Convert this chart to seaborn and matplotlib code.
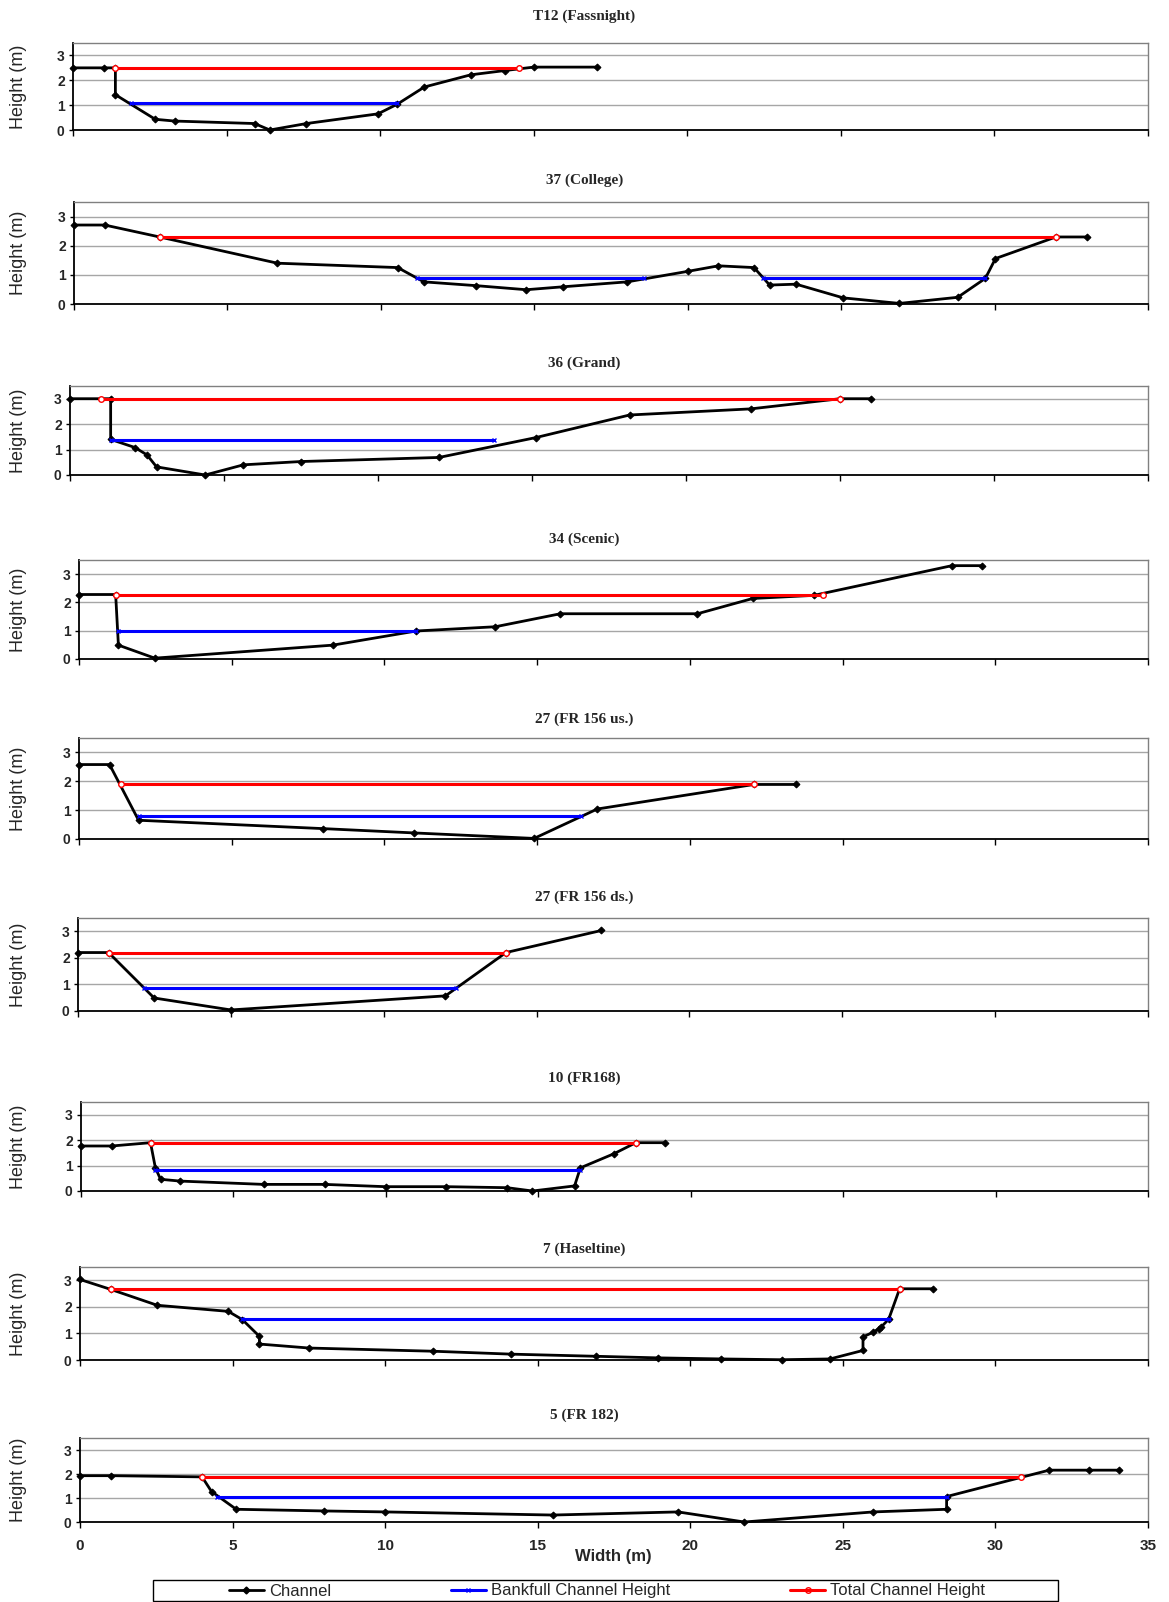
import matplotlib
matplotlib.use("Agg")
import pandas as pd
import seaborn as sns
import matplotlib.pyplot as plt
from matplotlib.lines import Line2D

# === DATA ===
titles = ["T12 (Fassnight)", "37 (College)", "36 (Grand)", "34 (Scenic)",
          "27 (FR 156 us.)", "27 (FR 156 ds.)", "10 (FR168)", "7 (Haseltine)",
          "5 (FR 182)"]

t12_x = [0, 1.0, 1.38, 1.38, 2.68, 3.31, 5.91, 6.41, 7.60, 9.93, 10.56, 11.44, 12.95, 14.05, 15.0, 17.07]
t12_y = [2.5, 2.5, 2.5, 1.42, 0.43, 0.36, 0.26, 0.0, 0.26, 0.65, 1.04, 1.73, 2.22, 2.39, 2.53, 2.53]
t12_bank = [[1.89, 10.56]]
t12_bank_h = 1.08
t12_total = [1.38, 14.53]
t12_total_h = 2.5

s37_x = [0, 1.0, 2.79, 6.63, 10.55, 11.4, 13.1, 14.74, 15.93, 18.03, 20.0, 21.0, 22.16, 22.67,
         23.53, 25.07, 26.9, 28.8, 29.7, 30.03, 32.0, 33.0]
s37_y = [2.71, 2.71, 2.3, 1.40, 1.25, 0.76, 0.63, 0.49, 0.59, 0.76, 1.12, 1.31, 1.25, 0.65,
         0.68, 0.21, 0.02, 0.23, 0.88, 1.56, 2.3, 2.3]
s37_bank = [[11.18, 18.56], [22.46, 29.7]]
s37_bank_h = 0.88
s37_total = [2.79, 32.0]
s37_total_h = 2.3

s36_x = [0, 1.32, 1.32, 2.11, 2.5, 2.81, 4.39, 5.63, 7.5, 11.98, 15.12, 18.17, 22.1, 25.0, 26.0]
s36_y = [3.0, 3.0, 1.4, 1.08, 0.79, 0.32, 0.0, 0.40, 0.53, 0.69, 1.47, 2.36, 2.6, 3.0, 3.0]
s36_bank = [[1.32, 13.78]]
s36_bank_h = 1.36
s36_total = [1.0, 25.0]
s36_total_h = 3.0

s34_x = [0, 1.2, 1.29, 2.48, 8.31, 11.04, 13.63, 15.76, 20.25, 22.06, 24.06, 28.58, 29.58]
s34_y = [2.28, 2.28, 0.49, 0.03, 0.49, 0.99, 1.14, 1.6, 1.6, 2.14, 2.25, 3.3, 3.3]
s34_bank = [[1.29, 11.04]]
s34_bank_h = 1.0
s34_total = [1.2, 24.36]
s34_total_h = 2.28

s27u_x = [0, 1.0, 1.95, 7.99, 10.98, 14.9, 16.97, 22.1, 23.46]
s27u_y = [2.58, 2.58, 0.65, 0.36, 0.21, 0.02, 1.04, 1.89, 1.89]
s27u_bank = [[1.95, 16.44]]
s27u_bank_h = 0.78
s27u_total = [1.36, 22.1]
s27u_total_h = 1.89

s27d_x = [0, 1.0, 2.49, 5.0, 12.02, 14.0, 17.12]
s27d_y = [2.2, 2.2, 0.49, 0.04, 0.57, 2.2, 3.03]
s27d_bank = [[2.17, 12.35]]
s27d_bank_h = 0.87
s27d_total = [1.0, 14.0]
s27d_total_h = 2.2

s10_x = [0, 1.01, 2.28, 2.44, 2.61, 3.25, 5.99, 7.99, 9.99, 11.98, 13.98, 14.81, 16.19, 16.38,
         17.49, 18.2, 19.16]
s10_y = [1.77, 1.77, 1.9, 0.91, 0.46, 0.39, 0.26, 0.26, 0.17, 0.17, 0.13, 0.0, 0.2, 0.91,
         1.47, 1.9, 1.9]
s10_bank = [[2.44, 16.38]]
s10_bank_h = 0.82
s10_total = [2.28, 18.2]
s10_total_h = 1.9

s7_x = [0, 1.0, 2.53, 4.86, 5.32, 5.88, 5.88, 7.51, 11.58, 14.14, 16.9, 18.94, 21.02, 23.0,
        24.58, 25.66, 25.66, 26.0, 26.17, 26.26, 26.5, 26.86, 27.96]
s7_y = [3.03, 2.66, 2.06, 1.83, 1.52, 0.89, 0.6, 0.45, 0.33, 0.22, 0.14, 0.08, 0.04, 0.01,
        0.04, 0.36, 0.87, 1.05, 1.17, 1.25, 1.53, 2.68, 2.68]
s7_bank = [[5.32, 26.5]]
s7_bank_h = 1.53
s7_total = [1.0, 26.86]
s7_total_h = 2.68

s5_x = [0, 1.03, 4.0, 4.31, 5.12, 8.01, 10.0, 15.5, 19.6, 21.77, 26.0, 28.4, 28.4, 31.76, 33.06, 34.05]
s5_y = [1.93, 1.93, 1.88, 1.27, 0.53, 0.46, 0.42, 0.29, 0.42, 0.0, 0.42, 0.53, 1.06, 2.16, 2.16, 2.16]
s5_bank = [[4.5, 28.4]]
s5_bank_h = 1.06
s5_total = [4.0, 30.83]
s5_total_h = 1.88

x_ticks = [0, 5, 10, 15, 20, 25, 30, 35]
y_ticks = [0, 1, 2, 3]

panels = [
    (t12_x, t12_y, t12_bank, t12_bank_h, t12_total, t12_total_h),
    (s37_x, s37_y, s37_bank, s37_bank_h, s37_total, s37_total_h),
    (s36_x, s36_y, s36_bank, s36_bank_h, s36_total, s36_total_h),
    (s34_x, s34_y, s34_bank, s34_bank_h, s34_total, s34_total_h),
    (s27u_x, s27u_y, s27u_bank, s27u_bank_h, s27u_total, s27u_total_h),
    (s27d_x, s27d_y, s27d_bank, s27d_bank_h, s27d_total, s27d_total_h),
    (s10_x, s10_y, s10_bank, s10_bank_h, s10_total, s10_total_h),
    (s7_x, s7_y, s7_bank, s7_bank_h, s7_total, s7_total_h),
    (s5_x, s5_y, s5_bank, s5_bank_h, s5_total, s5_total_h),
]

# === LAYOUT (pixels: title y, axes top, axes bottom, axes left) ===
W, H = 1169, 1602
RIGHT = 1148
LAYOUT = [
    (16, 43, 130, 73),
    (180, 202, 304, 74),
    (363, 386, 475, 70),
    (539, 560, 659, 79),
    (719, 738, 839, 79),
    (897, 918, 1011, 78),
    (1078, 1102, 1191, 81),
    (1249, 1267, 1360, 80),
    (1415, 1438, 1522, 80),
]

sns.set_theme(style="white")
plt.rcParams['font.family'] = ['Liberation Sans', 'DejaVu Sans']

BLACK, BLUE, RED = "#000000", "#0000FF", "#FF0000"
ch_kw = dict(color=BLACK, lw=2, marker="D", markersize=3.5, markeredgecolor=BLACK)
bk_kw = dict(color=BLUE, lw=2.2, marker="x", markersize=3.5, markeredgecolor=BLUE, markeredgewidth=1)
tt_kw = dict(color=RED, lw=2.2, marker="o", markersize=4, markerfacecolor="none",
             markeredgecolor=RED, markeredgewidth=1)

fig = plt.figure(figsize=(W / 100, H / 100), dpi=100)

for i, (cx, cy, bank, bank_h, total, total_h) in enumerate(panels):
    ty, top, bottom, left = LAYOUT[i]
    ax = fig.add_axes([left / W, 1 - bottom / H, (RIGHT - left) / W, (bottom - top) / H])
    ax.set_axisbelow(True)
    ax.yaxis.grid(True, color="#a6a6a6", lw=1)

    # channel profile
    sns.lineplot(x=cx, y=cy, ax=ax, sort=False, estimator=None, clip_on=False, **ch_kw)

    # bankfull (may have several segments)
    rows = []
    for k, (x0, x1) in enumerate(bank):
        rows += [{"x": x0, "y": bank_h, "seg": k}, {"x": x1, "y": bank_h, "seg": k}]
    bdf = pd.DataFrame(rows)
    sns.lineplot(data=bdf, x="x", y="y", units="seg", estimator=None, sort=False, ax=ax,
                 clip_on=False, **bk_kw)

    # total channel height
    sns.lineplot(x=total, y=[total_h, total_h], ax=ax, sort=False, estimator=None,
                 clip_on=False, **tt_kw)
    ax.lines[-1].set_markerfacecolor("white")

    ax.set_xlim(0, 35)
    ax.set_ylim(0, 3.5)
    ax.set_xticks(x_ticks)
    ax.set_yticks(y_ticks)
    ax.set_xlabel("")
    last = i == len(panels) - 1
    ax.tick_params(axis="x", bottom=True, direction="out", length=4, width=1, color=BLACK,
                   labelbottom=last, labelsize=11, pad=8)
    ax.tick_params(axis="y", left=True, direction="out", length=3, width=1, color=BLACK,
                   labelsize=10, pad=3)
    for lab in ax.get_xticklabels() + ax.get_yticklabels():
        lab.set_fontweight("bold")
    for s in ["top", "right"]:
        ax.spines[s].set_color("#808080")
        ax.spines[s].set_linewidth(1)
    for s in ["left", "bottom"]:
        ax.spines[s].set_color(BLACK)
        ax.spines[s].set_linewidth(1.3)

    ax.set_ylabel("Height (m)", fontsize=13)
    ax.yaxis.set_label_coords((27 - left) / (RIGHT - left), 0.5)

    fig.text(0.5, 1 - ty / H, titles[i], ha="center", va="center", fontsize=11,
             fontweight="bold", family=["Liberation Serif", "DejaVu Serif"])

fig.text(613 / W, 1 - 1556 / H, "Width (m)", ha="center", va="center", fontsize=12, fontweight="bold")

# === LEGEND ===
handles = [Line2D([], [], **ch_kw), Line2D([], [], **bk_kw), Line2D([], [], **tt_kw)]
labels = ["Channel", "Bankfull Channel Height", "Total Channel Height"]
fig.legend(handles, labels, loc="center", bbox_to_anchor=(607 / W, 1 - 1591 / H),
           ncol=3, frameon=False, fontsize=12, handlelength=2.1, handletextpad=0.3,
           columnspacing=7.2, borderpad=0, borderaxespad=0)
fig.add_artist(plt.Rectangle((153 / W, 1.5 / H), 905 / W, 21 / H, transform=fig.transFigure,
                             fill=False, edgecolor=BLACK, lw=1))

fig.savefig("out.png", dpi=100)
